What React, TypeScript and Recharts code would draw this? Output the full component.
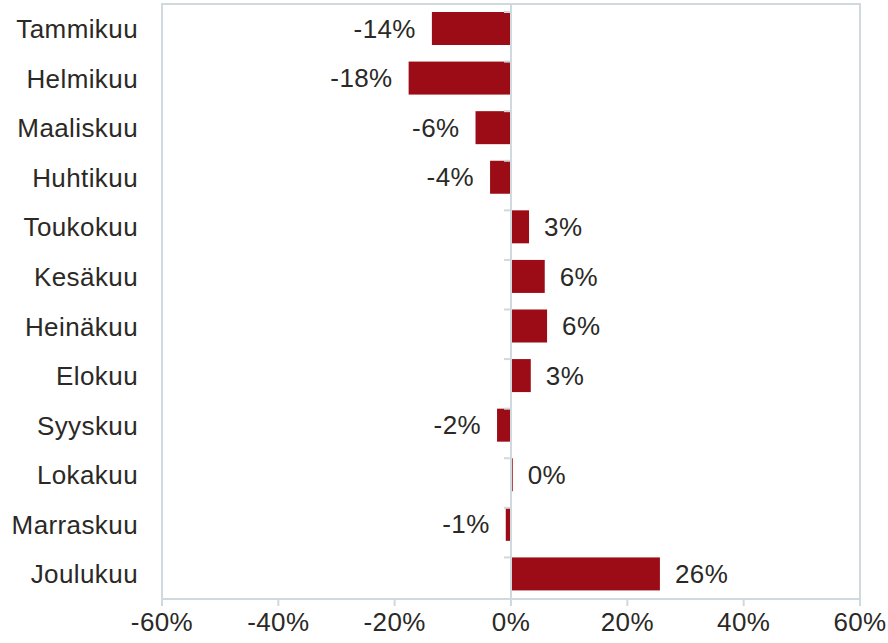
import { BarChart, Bar, XAxis, YAxis, ReferenceLine, ReferenceArea, LabelList } from 'recharts';

// Monthly change (%)
const months = ['Tammikuu', 'Helmikuu', 'Maaliskuu', 'Huhtikuu', 'Toukokuu', 'Kesäkuu', 'Heinäkuu', 'Elokuu', 'Syyskuu', 'Lokakuu', 'Marraskuu', 'Joulukuu'];
const changes = [-13.6, -17.6, -6.1, -3.6, 3.1, 5.8, 6.2, 3.4, -2.4, 0.3, -0.9, 25.6];
const xTicks = [-60, -40, -20, 0, 20, 40, 60];

const data = months.map((month, i) => ({ month, value: changes[i] }));

const BAR = '#9c0c16';
const GRID = '#d0d9dd';
const TEXT = '#2b2926';
const FONT = '"Liberation Sans", Arial, sans-serif';
const FS = 26;
const LS = 0.4;

function BarWithTick(props: any) {
  const { x, y, width, height, value, background } = props;
  const left = Math.min(x, x + width);
  const right = Math.max(x, x + width);
  const zeroX = value >= 0 ? left : right;
  const top = background ? background.y : y - 8;
  return (
    <g>
      <rect x={left} y={y} width={Math.max(right - left, 1)} height={height} fill={BAR} />
      <line x1={zeroX - 7} x2={zeroX} y1={top} y2={top} stroke={GRID} strokeWidth={2} />
    </g>
  );
}

function ValueLabel(props: any) {
  const { x, y, width, height, value } = props;
  const left = Math.min(x, x + width);
  const right = Math.max(x, x + width);
  const neg = value < 0;
  return (
    <text
      x={neg ? left - 16 : right + 15}
      y={y + height / 2}
      dy="0.35em"
      textAnchor={neg ? 'end' : 'start'}
      fontSize={FS}
      letterSpacing={LS}
      fontFamily={FONT}
      fill={TEXT}
    >
      {Math.round(value) + '%'}
    </text>
  );
}

export default function App() {
  return (
    <div style={{ position: 'absolute', left: 0, top: 0, background: '#fff' }}>
      <BarChart
        width={888}
        height={643}
        data={data}
        layout="vertical"
        margin={{ top: 4, right: 28, bottom: 0, left: 0 }}
        barSize={33}
      >
        <XAxis
          type="number"
          domain={[-60, 60]}
          ticks={xTicks}
          tickFormatter={(v: number) => v + '%'}
          height={44}
          tickSize={7}
          tickMargin={7}
          axisLine={{ stroke: GRID, strokeWidth: 2 }}
          tickLine={{ stroke: GRID, strokeWidth: 2 }}
          tick={{ fontSize: FS, fontFamily: FONT, fill: TEXT, letterSpacing: LS }}
        />
        <YAxis
          type="category"
          dataKey="month"
          width={162}
          tickSize={0}
          tickMargin={24}
          axisLine={false}
          tickLine={false}
          tick={{ fontSize: FS, fontFamily: FONT, fill: TEXT, letterSpacing: LS }}
        />
        <ReferenceArea x1={-60} x2={60} fill="none" stroke={GRID} strokeWidth={2} />
        <ReferenceLine x={0} stroke={GRID} strokeWidth={2} />
        <Bar dataKey="value" shape={BarWithTick} isAnimationActive={false}>
          <LabelList dataKey="value" content={ValueLabel} />
        </Bar>
      </BarChart>
    </div>
  );
}
